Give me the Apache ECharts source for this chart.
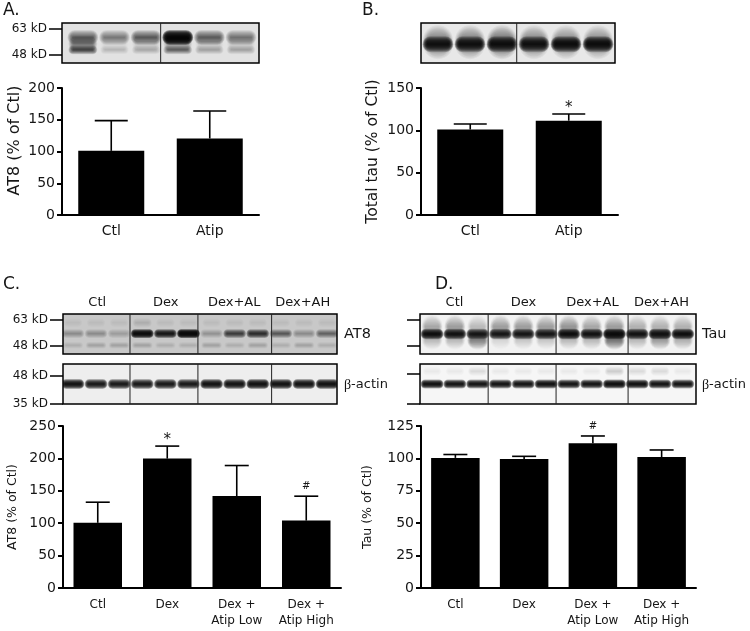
<!DOCTYPE html>
<html>
<head>
<meta charset="utf-8">
<style>html,body{margin:0;padding:0;background:#fff}#c{width:750px;height:631px}</style>
<script src="https://cdn.jsdelivr.net/npm/echarts@6/dist/echarts.min.js"></script>
</head>
<body>
<div id="c"></div>
<script>
// ---------- bar chart data ----------
const catsTwo = ['Ctl', 'Atip'];
const catsFour = ['Ctl', 'Dex', 'Dex +\nAtip Low', 'Dex +\nAtip High'];
const headers = ['Ctl', 'Dex', 'Dex+AL', 'Dex+AH'];

const valuesA = [101, 120.5];
const upperA = [148.6, 163.8];
const marksA = ['', ''];

const valuesB = [101, 111.4];
const upperB = [107.5, 119.3];
const marksB = ['', '*'];

const valuesC = [100.6, 199.7, 142, 104];
const upperC = [132.4, 219, 189, 141.7];
const marksC = ['', '*', '', '#'];

const valuesD = [100.4, 99.6, 111.7, 101];
const upperD = [103, 101.6, 117.3, 106.5];
const marksD = ['', '', '#', ''];

// ---------- blot band darkness per lane ----------
const bandA_top = [.55, .42, .58, 1, .6, .46];
const bandA_smear = [.42, .06, .1, .28, .12, .1];
const bandA_low = [.68, .14, .2, .52, .26, .24];
const bandB_halo = [.5, .5, .55, .45, .42, .42];
const bandB_core = [.9, .9, .9, .9, .93, .93];
const bandCat8_main = [.28, .3, .2, .97, .9, 1, .26, .72, .8, .55, .3, .5];
const bandCat8_low = [.1, .16, .14, .14, .12, .08, .14, .08, .14, .08, .16, .08];
const bandCat8_top = [.05, .07, .04, .08, .07, .07, .05, .07, .07, .05, .05, .07];
const bandCactin = [.93, .9, .9, .9, .9, .9, .93, .93, .95, .93, .93, .95];
const bandDtau_halo = [.28, .32, .22, .32, .32, .32, .36, .3, .32, .24, .26, .26];
const bandDtau_core = [.94, .92, .9, .9, .9, .9, .94, .92, .97, .92, .95, .94];
const bandDtau_low = [.18, .2, .42, .12, .14, .16, .18, .18, .5, .2, .34, .24];
const bandDactin_ghost = [.04, .07, .12, .05, .05, .05, .04, .04, .16, .1, .08, .03];
const bandDactin = [.94, .92, .92, .92, .92, .94, .92, .92, .96, .94, .92, .92];

const sepsThree = [2.47, 5.41, 8.6];
const sepsD = [2.46, 5.44, 8.6];
const sepOne = [2.46];

// ---------- layout helpers ----------
const FONT = '"DejaVu Sans", sans-serif';
const INK = '#161616';
const grids = [], xAxes = [], yAxes = [], series = [];

function addBar(o) {
  const g = grids.length;
  const xi = xAxes.length, yi = yAxes.length;
  grids.push({left: o.l, top: o.t, width: o.w, height: o.h});
  xAxes.push({
    gridIndex: g, type: 'category', data: o.cats,
    axisLine: {lineStyle: {color: '#000', width: 2}, onZero: false},
    axisTick: {alignWithLabel: true, length: 5, lineStyle: {color: '#000', width: 2}},
    axisLabel: {color: INK, fontFamily: FONT, fontSize: o.catSize, margin: o.catMargin, lineHeight: 16, interval: 0}
  });
  yAxes.push({
    gridIndex: g, type: 'value', min: 0, max: o.max, interval: o.step,
    name: o.name, nameLocation: 'middle', nameGap: o.nameGap,
    nameTextStyle: {color: INK, fontFamily: FONT, fontSize: o.nameSize, padding: o.namePad || 0},
    splitLine: {show: false},
    axisLine: {show: true, lineStyle: {color: '#000', width: 2}},
    axisTick: {show: true, length: 5, lineStyle: {color: '#000', width: 2}},
    axisLabel: {color: INK, fontFamily: FONT, fontSize: 14, margin: 7}
  });
  series.push({
    type: 'bar', xAxisIndex: xi, yAxisIndex: yi, data: o.values, barWidth: o.barW,
    itemStyle: {color: '#000'}, silent: true
  });
  series.push({
    type: 'custom', xAxisIndex: xi, yAxisIndex: yi, silent: true, z: 3,
    data: o.values.map((v, i) => [i, v, o.upper[i]]),
    encode: {x: 0, y: [1, 2]},
    renderItem(params, api) {
      const i = api.value(0);
      const a = api.coord([i, api.value(1)]);
      const b = api.coord([i, api.value(2)]);
      const children = [
        {type: 'line', shape: {x1: a[0], y1: a[1], x2: b[0], y2: b[1]}, style: {stroke: '#000', lineWidth: 1.6}},
        {type: 'line', shape: {x1: b[0] - o.cap / 2, y1: b[1], x2: b[0] + o.cap / 2, y2: b[1]}, style: {stroke: '#000', lineWidth: 1.6}}
      ];
      const m = o.marks[i];
      if (m) {
        const star = m === '*';
        children.push({type: 'text', style: {
          text: m, x: b[0], y: b[1] - (star ? -2 : 5), align: 'center', verticalAlign: 'bottom',
          fill: INK, font: (star ? '15px ' : '10px ') + FONT
        }});
      }
      return {type: 'group', children};
    }
  });
}

// A band is a stack of faint nested rounded rectangles, which gives the soft blot look.
const LAYERS = 14;
function addBlot(o) {
  const g = grids.length;
  grids.push({left: o.l, top: o.t, width: o.w, height: o.h, show: true,
    backgroundColor: o.bg, borderColor: '#000', borderWidth: 1.5});
  const xi = xAxes.length;
  xAxes.push({gridIndex: g, type: 'value', min: o.min, max: o.max, show: false});
  if (o.headers) {
    xAxes.push({gridIndex: g, type: 'category', position: 'top', data: o.headers,
      axisLine: {show: false}, axisTick: {show: false},
      axisLabel: {color: INK, fontFamily: FONT, fontSize: 13, margin: 5, interval: 0}});
  }
  const yi = yAxes.length;
  const names = o.markerNames || {};
  yAxes.push({
    gridIndex: g, type: 'value', min: 0, max: 100, inverse: true, splitLine: {show: false},
    axisLine: {show: false, onZero: false},
    axisTick: {show: !!o.markers, length: 13, lineStyle: {color: '#000', width: 1.5}, customValues: o.markers || []},
    axisLabel: {show: !!o.markerNames, color: INK, fontFamily: FONT, fontSize: 12, margin: 15,
      customValues: o.markers || [], formatter: v => names[v] || ''}
  });
  o.rows.forEach(r => {
    series.push({
      type: 'custom', xAxisIndex: xi, yAxisIndex: yi, silent: true, clip: true, z: 2,
      data: r.values.map((d, lane) => [lane, r.y, d]),
      encode: {x: 0, y: 1},
      renderItem(params, api) {
        const p = api.coord([api.value(0), api.value(1)]);
        const d = api.value(2);
        const a = 1 - Math.pow(1 - Math.min(d, .985), 1 / LAYERS);
        const children = [];
        for (let k = LAYERS; k >= 1; k--) {
          const t = k / LAYERS;
          const w = r.w * (0.66 + 0.34 * t), h = r.h * t;
          children.push({type: 'rect',
            shape: {x: p[0] - w / 2, y: p[1] - h / 2, width: w, height: h, r: h / 2},
            style: {fill: 'rgba(8,8,8,' + a + ')'}});
        }
        return {type: 'group', children};
      }
    });
  });
  series.push({
    type: 'custom', xAxisIndex: xi, yAxisIndex: yi, silent: true, z: 4,
    data: o.seps.map(s => [s, 0]),
    encode: {x: 0, y: 1},
    renderItem(params, api) {
      const a = api.coord([api.value(0), 0]);
      const b = api.coord([api.value(0), 100]);
      return {type: 'line', shape: {x1: a[0], y1: a[1], x2: b[0], y2: b[1]}, style: {stroke: '#222', lineWidth: 1}};
    }
  });
}

// ---------- blots ----------
addBlot({l: 62, t: 23, w: 197, h: 40, min: -.66, max: 5.57, bg: '#e2e2e2', seps: sepOne,
  markers: [15, 80], markerNames: {15: '63 kD', 80: '48 kD'},
  rows: [
    {y: 36, w: 31, h: 15, values: bandA_top},
    {y: 52, w: 29, h: 16, values: bandA_smear},
    {y: 67, w: 29, h: 9, values: bandA_low}
  ]});
addBlot({l: 421, t: 23, w: 194, h: 40, min: -.53, max: 5.53, bg: '#e8e8e8', seps: sepOne,
  rows: [
    {y: 48, w: 30, h: 34, values: bandB_halo},
    {y: 53, w: 31, h: 16, values: bandB_core}
  ]});
addBlot({l: 63, t: 314, w: 274, h: 40, min: -.43, max: 11.43, bg: '#c8c8c8', seps: sepsThree, headers,
  markers: [15, 80], markerNames: {15: '63 kD', 80: '48 kD'},
  rows: [
    {y: 22, w: 20, h: 10, values: bandCat8_top},
    {y: 49, w: 23, h: 9, values: bandCat8_main},
    {y: 78, w: 21, h: 7, values: bandCat8_low}
  ]});
addBlot({l: 63, t: 364, w: 274, h: 40, min: -.43, max: 11.43, bg: '#eeeeee', seps: sepsThree,
  markers: [30, 100], markerNames: {30: '48 kD', 100: '35 kD'},
  rows: [{y: 50, w: 23, h: 10, values: bandCactin}]});
addBlot({l: 420, t: 314, w: 276, h: 40, min: -.53, max: 11.58, bg: '#f2f2f2', seps: sepsD, headers,
  markers: [15, 80],
  rows: [
    {y: 32, w: 21, h: 24, values: bandDtau_halo},
    {y: 66, w: 21, h: 18, values: bandDtau_low},
    {y: 50, w: 23, h: 11, values: bandDtau_core}
  ]});
addBlot({l: 420, t: 364, w: 276, h: 40, min: -.53, max: 11.58, bg: '#f6f6f6', seps: sepsD,
  markers: [25, 100],
  rows: [
    {y: 18, w: 20, h: 10, values: bandDactin_ghost},
    {y: 50, w: 23, h: 9, values: bandDactin}
  ]});

// ---------- bar panels ----------
addBar({l: 62, t: 88, w: 197, h: 127, cats: catsTwo, values: valuesA, upper: upperA, marks: marksA,
  max: 200, step: 50, name: 'AT8 (% of Ctl)', nameGap: 39, nameSize: 16, namePad: [0, 0, 0, 22],
  catSize: 14, catMargin: 8, barW: 66, cap: 33});
addBar({l: 421, t: 88, w: 197, h: 127, cats: catsTwo, values: valuesB, upper: upperB, marks: marksB,
  max: 150, step: 50, name: 'Total tau (% of Ctl)', nameGap: 40, nameSize: 15.5,
  catSize: 14, catMargin: 8, barW: 66, cap: 33});
addBar({l: 63, t: 426, w: 278, h: 162, cats: catsFour, values: valuesC, upper: upperC, marks: marksC,
  max: 250, step: 50, name: 'AT8 (% of Ctl)', nameGap: 44, nameSize: 12.5,
  catSize: 12, catMargin: 9, barW: 48.5, cap: 24});
addBar({l: 421, t: 426, w: 275, h: 162, cats: catsFour, values: valuesD, upper: upperD, marks: marksD,
  max: 125, step: 25, name: 'Tau (% of Ctl)', nameGap: 47, nameSize: 12.5,
  catSize: 12, catMargin: 9, barW: 48.5, cap: 24});

// ---------- captions ----------
function caption(text, x, y, size) {
  return {type: 'text', x, y, silent: true,
    style: {text, fill: INK, font: size + 'px ' + FONT, verticalAlign: 'middle'}};
}
function beta(x, y) {
  return {type: 'text', x, y, silent: true, style: {
    text: '{b|β}{t|-actin}', verticalAlign: 'middle',
    rich: {b: {fontFamily: '"Liberation Serif", serif', fontSize: 14, fill: INK},
           t: {fontFamily: FONT, fontSize: 13, fill: INK}}
  }};
}
const captions = [
  caption('A.', 3, 11, 17), caption('B.', 362, 11, 17),
  caption('C.', 3, 285, 17), caption('D.', 435, 285, 17),
  caption('AT8', 344, 334, 14.5), caption('Tau', 702, 334, 14.5),
  beta(344, 385), beta(702, 385)
];

const chart = echarts.init(document.getElementById('c'), null, {renderer: 'canvas'});
chart.setOption({
  animation: false, backgroundColor: '#fff',
  grid: grids, xAxis: xAxes, yAxis: yAxes, series,
  graphic: {elements: captions}
});
</script>
</body>
</html>
